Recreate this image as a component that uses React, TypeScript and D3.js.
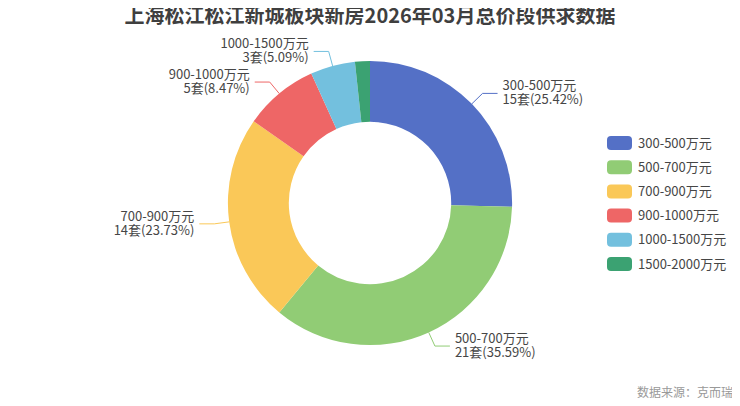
import * as d3 from "d3";

const categories = ["300-500万元", "500-700万元", "700-900万元", "900-1000万元", "1000-1500万元", "1500-2000万元"];
const counts = [15, 21, 14, 5, 3, 1];
const percents = ["25.42%", "35.59%", "23.73%", "8.47%", "5.09%", "1.69%"];
const showLabel = [true, true, true, true, true, false];
const colors = ["#5470c6", "#91cc75", "#fac858", "#ee6666", "#73c0de", "#3ba272"];

const title = "上海松江松江新城板块新房2026年03月总价段供求数据";
const source = "数据来源：克而瑞";

type Slice = { name: string; value: number; pct: string; show: boolean; color: string };

function DonutChart({ width = 740, height = 406 }: { width?: number; height?: number }) {
  const font = "'Noto Sans CJK SC', 'Noto Sans', sans-serif";
  const cx = width / 2;
  const cy = height / 2;
  const outer = (Math.min(width, height) / 2) * 0.7;
  const inner = (Math.min(width, height) / 2) * 0.4;

  const data: Slice[] = categories.map((name, i) => ({
    name,
    value: counts[i],
    pct: percents[i],
    show: showLabel[i],
    color: colors[i],
  }));

  const pie = d3
    .pie<Slice>()
    .value(d => d.value)
    .sort(null);
  const arc = d3.arc<d3.PieArcDatum<Slice>>().innerRadius(inner).outerRadius(outer);
  const arcs = pie(data);

  const len1 = 15;
  const len2 = 15;

  const legendTop = cy - (categories.length * 14 + (categories.length - 1) * 10) / 2;

  return (
    <svg width={width} height={height} style={{ display: "block", fontFamily: font }}>
      <rect width={width} height={height} fill="#ffffff" />
      <text x={cx} y={23} textAnchor="middle" fontSize={20} fontWeight="bold" fill="#3f3f3f">
        {title}
      </text>
      <g transform={`translate(${cx},${cy})`}>
        {arcs.map((a, i) => (
          <path key={i} d={arc(a) ?? undefined} fill={a.data.color} />
        ))}
        {arcs.map((a, i) => {
          if (!a.data.show) return null;
          const mid = (a.startAngle + a.endAngle) / 2;
          const sx = Math.sin(mid);
          const sy = -Math.cos(mid);
          const side = sx >= 0 ? 1 : -1;
          const p0 = [outer * sx, outer * sy];
          const p1 = [(outer + len1) * sx, (outer + len1) * sy];
          const p2 = [p1[0] + side * len2, p1[1]];
          const tx = p2[0] + side * 5;
          const anchor = side > 0 ? "start" : "end";
          return (
            <g key={"l" + i}>
              <polyline
                points={[p0, p1, p2].map(p => p.join(",")).join(" ")}
                fill="none"
                stroke={a.data.color}
                strokeWidth={1}
              />
              <text x={tx} y={p2[1] - 3} textAnchor={anchor} fontSize={13} fill="#464646">
                {a.data.name}
              </text>
              <text x={tx} y={p2[1] + 11} textAnchor={anchor} fontSize={13} fill="#464646">
                {`${a.data.value}套(${a.data.pct})`}
              </text>
            </g>
          );
        })}
      </g>
      <g transform={`translate(607,${legendTop})`}>
        {data.map((d, i) => (
          <g key={i} transform={`translate(0,${i * 24.2})`}>
            <rect width={25} height={14} rx={4} fill={d.color} />
            <text x={31} y={7} dy="0.35em" fontSize={13} fill="#464646">
              {d.name}
            </text>
          </g>
        ))}
      </g>
      <text x={733} y={397} textAnchor="end" fontSize={12} fill="#999999">
        {source}
      </text>
    </svg>
  );
}

export default function App() {
  return (
    <div style={{ margin: -8 }}>
      <DonutChart width={740} height={406} />
    </div>
  );
}
